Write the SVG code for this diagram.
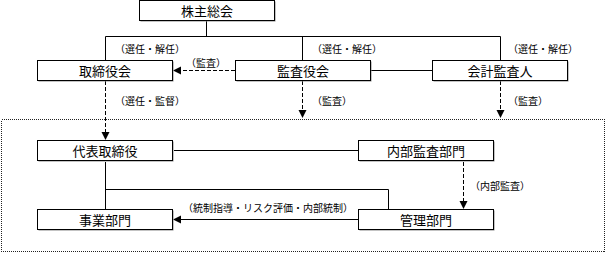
<svg xmlns="http://www.w3.org/2000/svg" width="606" height="253" viewBox="0 0 606 253">
<style>
.box rect.s{fill:#888;}
.box rect.b{fill:#fff;stroke:#000;stroke-width:1;}
.box text{font-family:"Noto Sans CJK JP","Noto Sans CJK SC",sans-serif;font-size:13px;text-anchor:middle;dominant-baseline:central;fill:#000;}
.lbl{font-family:"Noto Sans CJK JP","Noto Sans CJK SC",sans-serif;font-size:10px;dominant-baseline:central;fill:#000;}
.ln{stroke:#000;stroke-width:1;fill:none;}
.ds{stroke:#000;stroke-width:1;fill:none;stroke-dasharray:4 2;}
.ah{fill:#000;}
</style>
<rect x="1.5" y="119.5" width="603" height="132" fill="none" stroke="#222" stroke-width="1" stroke-dasharray="1 1" shape-rendering="crispEdges"/>
<g id="connectors">
  <path class="ln" d="M206.5 21V36.5M105.5 36.5H500.5M105.5 36.5V60M302.5 36.5V60M500.5 36.5V60"/>
  <path class="ln" d="M371 70.5H432"/>
  <path class="ds" d="M235 70.5H181"/>
  <polygon class="ah" points="173,70.5 181,66.5 181,74.5"/>
  <path class="ds" d="M105.5 81V132"/>
  <polygon class="ah" points="105.5,140 101.5,132 109.5,132"/>
  <path class="ds" d="M302.5 81V110"/>
  <polygon class="ah" points="302.5,118 298.5,110 306.5,110"/>
  <path class="ds" d="M500.5 81V110"/>
  <polygon class="ah" points="500.5,118 496.5,110 504.5,110"/>
  <path class="ln" d="M174 150.5H358"/>
  <path class="ln" d="M105.5 162V209M105.5 189.5H388.5V209"/>
  <path class="ln" d="M358 219.5H181"/>
  <polygon class="ah" points="173,219.5 181,215.5 181,223.5"/>
  <path class="ds" d="M463.5 162V201"/>
  <polygon class="ah" points="463.5,209 459.5,201 467.5,201"/>
</g>
<text class="lbl" x="115" y="48">（選任・解任）</text>
<text class="lbl" x="312" y="48">（選任・解任）</text>
<text class="lbl" x="508" y="48">（選任・解任）</text>
<text class="lbl" x="186" y="62">（監査）</text>
<text class="lbl" x="115" y="100">（選任・監督）</text>
<text class="lbl" x="312" y="100">（監査）</text>
<text class="lbl" x="508" y="100">（監査）</text>
<text class="lbl" x="183" y="207">（統制指導・リスク評価・内部統制）</text>
<text class="lbl" x="470" y="185">（内部監査）</text>
<g id="n1" class="box"><rect class="s" x="140.5" y="1.5" width="135" height="20"/><rect class="b" x="139.5" y="0.5" width="135" height="20"/><text x="207" y="10.5">株主総会</text></g>
<g id="n2" class="box"><rect class="s" x="38.5" y="61.5" width="135" height="20"/><rect class="b" x="37.5" y="60.5" width="135" height="20"/><text x="105" y="70.5">取締役会</text></g>
<g id="n3" class="box"><rect class="s" x="236.5" y="61.5" width="135" height="20"/><rect class="b" x="235.5" y="60.5" width="135" height="20"/><text x="303" y="70.5">監査役会</text></g>
<g id="n4" class="box"><rect class="s" x="433.5" y="61.5" width="135" height="20"/><rect class="b" x="432.5" y="60.5" width="135" height="20"/><text x="500" y="70.5">会計監査人</text></g>
<g id="n5" class="box"><rect class="s" x="38.5" y="141.5" width="135" height="20"/><rect class="b" x="37.5" y="140.5" width="135" height="20"/><text x="105" y="150.5">代表取締役</text></g>
<g id="n6" class="box"><rect class="s" x="359.5" y="141.5" width="135" height="20"/><rect class="b" x="358.5" y="140.5" width="135" height="20"/><text x="426" y="150.5">内部監査部門</text></g>
<g id="n7" class="box"><rect class="s" x="38.5" y="210.5" width="135" height="20"/><rect class="b" x="37.5" y="209.5" width="135" height="20"/><text x="105" y="219.5">事業部門</text></g>
<g id="n8" class="box"><rect class="s" x="359.5" y="210.5" width="135" height="20"/><rect class="b" x="358.5" y="209.5" width="135" height="20"/><text x="426" y="219.5">管理部門</text></g>
</svg>
